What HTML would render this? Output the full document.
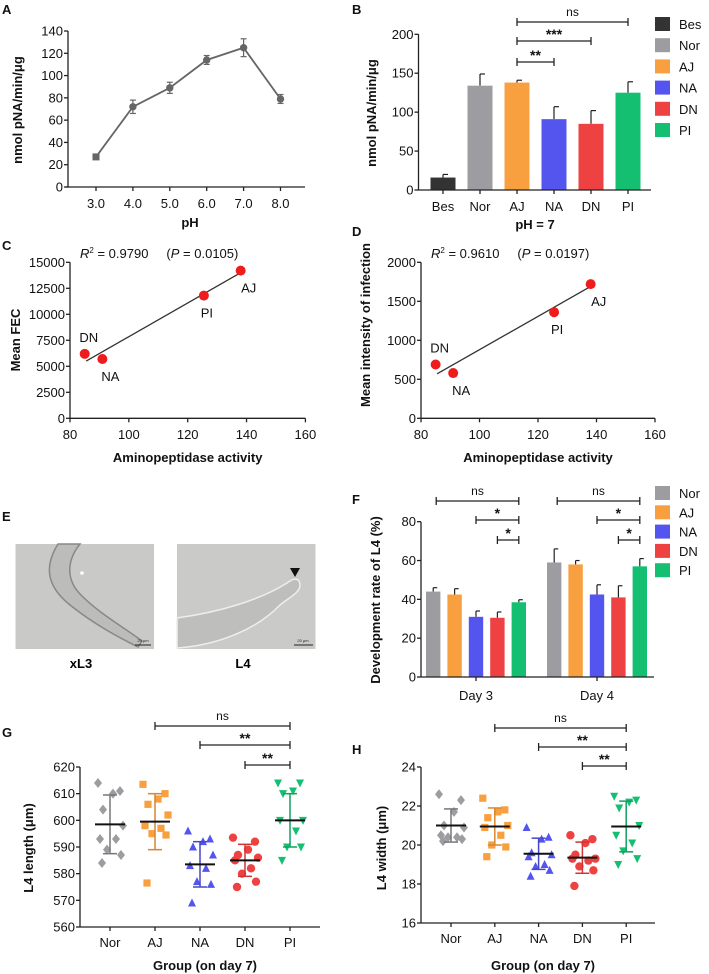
<!DOCTYPE html>
<html><head><meta charset="utf-8"><style>
html,body{margin:0;padding:0;background:#fff;}
svg{display:block;font-family:"Liberation Sans Narrow","Liberation Sans",Arial,sans-serif;}
.b{font-family:"Liberation Sans",Arial,sans-serif;font-weight:bold;}
</style></head><body>
<svg id="fig" width="709" height="974" viewBox="0 0 709 974" xmlns="http://www.w3.org/2000/svg">
<!-- Panel E images -->
<g>
  <rect x="15.5" y="544" width="138.5" height="105" fill="#c9c9c7"/>
  <path d="M58,544 C45,565 45,585 70,605 C95,625 120,638 138,647 L142,641 C125,628 100,614 82,596 C65,580 67,560 80,544 Z" fill="#bcbcba" stroke="#888" stroke-width="1.5"/>
  <circle cx="82" cy="573" r="1.8" fill="#fff"/>
  <line x1="135" y1="645" x2="151" y2="645" stroke="#222" stroke-width="1"/>
  <text x="143" y="642" font-size="4" text-anchor="middle" fill="#222">20 μm</text>
  <rect x="177" y="544" width="138.5" height="105" fill="#cacac8"/>
  <path d="M177,618 C220,612 260,600 287,583 C295,577 300,578 300,586 C299,593 290,597 280,605 C258,628 220,645 177,648 Z" fill="#bebebc" stroke="#eee" stroke-width="1.5"/>
  <polygon points="290,568 300,568 295,577" fill="#111"/>
  <line x1="294" y1="645" x2="313" y2="645" stroke="#222" stroke-width="1"/>
  <text x="303" y="642" font-size="4" text-anchor="middle" fill="#222">20 μm</text>
  <text class="b" x="81" y="668" font-size="13" text-anchor="middle">xL3</text>
  <text class="b" x="243" y="668" font-size="13" text-anchor="middle">L4</text>
</g>
</svg>
<script>
// ---------- DATA ----------
const phLevels = [3, 4, 5, 6, 7, 8];
const phActivity = [27, 72, 89, 114, 125, 79];
const phError = [2, 6, 5, 4, 8, 4];

const groupsB = ["Bes", "Nor", "AJ", "NA", "DN", "PI"];
const activityB = [16, 134, 138, 91, 85, 125];
const errorB = [4, 15, 3, 16, 17, 14];

const corrGroups = ["DN", "NA", "PI", "AJ"];
const corrActivity = [85, 91, 125.5, 138];
const corrFEC = [6200, 5700, 11800, 14200];
const corrIntensity = [690, 580, 1360, 1720];
const fitFEC = [5500, 14000];
const fitIntensity = [570, 1690];
const fitX = [85.5, 138];

const daysF = ["Day 3", "Day 4"];
const groupsF = ["Nor", "AJ", "NA", "DN", "PI"];
const day3Rate = [44, 42.5, 31, 30.5, 38.5];
const day3Err = [2, 3, 3, 3, 1.3];
const day4Rate = [59, 58, 42.5, 41, 57];
const day4Err = [7, 2, 5, 6, 4];

const groupsGH = ["Nor", "AJ", "NA", "DN", "PI"];
const lenNor = [614, 611, 610, 604, 598, 593, 593, 589, 587, 584];
const lenAJ = [613.5, 610, 608, 606, 602, 598, 597, 595, 594.5, 576.5];
const lenNA = [596, 593, 592, 590, 587, 583, 582, 577, 576, 569];
const lenDN = [593.5, 592, 589, 587, 586, 585, 582, 580, 577, 575];
const lenPI = [614, 614, 611, 610, 600, 600, 596, 590, 590, 585];
const lenMean = [598.5, 599.5, 583.5, 585, 600];
const lenSD = [11, 10.5, 8.5, 6, 10];
const widNor = [22.6, 22.3, 21.7, 21.0, 20.9, 20.5, 20.4, 20.4, 20.3, 20.2];
const widAJ = [22.4, 21.8, 21.7, 21.4, 21.0, 20.9, 20.5, 20.0, 19.9, 19.4];
const widNA = [20.9, 20.4, 20.3, 19.6, 19.5, 19.4, 19.0, 18.9, 18.7, 18.4];
const widDN = [20.5, 20.3, 20.1, 19.5, 19.3, 19.3, 19.2, 18.9, 18.7, 17.9];
const widPI = [22.5, 22.3, 22.2, 21.9, 21.0, 20.5, 20.1, 19.7, 19.3, 19.0];
const widMean = [21.0, 20.95, 19.55, 19.35, 20.95];
const widSD = [0.85, 0.95, 0.8, 0.8, 1.3];

const ticksA = [0, 20, 40, 60, 80, 100, 120, 140];
const ticksB = [0, 50, 100, 150, 200];
const ticksC = [0, 2500, 5000, 7500, 10000, 12500, 15000];
const ticksD = [0, 500, 1000, 1500, 2000];
const ticksCorrX = [80, 100, 120, 140, 160];
const ticksF = [0, 20, 40, 60, 80];
const ticksG = [560, 570, 580, 590, 600, 610, 620];
const ticksH = [16, 18, 20, 22, 24];

const colors = {Bes:"#333333", Nor:"#9d9da1", AJ:"#f8a040", NA:"#5454ee", DN:"#ee4242", PI:"#14bf72"};

// ---------- HELPERS ----------
const NS = "http://www.w3.org/2000/svg";
const svg = document.getElementById("fig");
function mk(tag, attrs, parent) {
  const e = document.createElementNS(NS, tag);
  for (const k in attrs) e.setAttribute(k, attrs[k]);
  (parent || svg).appendChild(e);
  return e;
}
function nm(e, name) {
  
  
  return e;
}
function txt(s, x, y, size, anchor, bold, extra) {
  const a = Object.assign({x:x, y:y, "font-size":size, "text-anchor":anchor||"middle", fill:"#111"}, extra||{});
  if (bold) a["class"] = "b";
  const e = mk("text", a);
  e.textContent = s;
  return e;
}
function lin(d0, d1, r0, r1) { return v => r0 + (v - d0) * (r1 - r0) / (d1 - d0); }
function line(x1, y1, x2, y2, c, w) { return mk("line", {x1:x1, y1:y1, x2:x2, y2:y2, stroke:c||"#222", "stroke-width":w||1.3}); }
function yAxis(x, y0, y1, scale, ticks, fmt, prefix) {
  nm(line(x, y0, x, y1), prefix + "-y-axis");
  ticks.forEach(t => {
    nm(line(x - 4, scale(t), x, scale(t)), prefix + "-y-tick");
    nm(txt(fmt ? fmt(t) : String(t), x - 5, scale(t) + 4.5, 13, "end"), prefix + "-y-tick-label");
  });
}
function yTitle(s, x, y, prefix) {
  const e = txt(s, x, y, 13, "middle", true, {transform:"rotate(-90 " + x + " " + y + ")"});
  nm(e, prefix + "-y-axis-title");
}
function bracket(x1, x2, y, label, prefix) {
  nm(line(x1, y, x2, y), prefix + "-sig-bracket");
  nm(line(x1, y - 4, x1, y + 4), prefix + "-sig-bracket-end");
  nm(line(x2, y - 4, x2, y + 4), prefix + "-sig-bracket-end");
  nm(txt(label, (x1 + x2) / 2, label === "ns" ? y - 6 : y - 2, label === "ns" ? 12 : 14, "middle", label !== "ns"), prefix + "-sig-label");
}
function panelLabel(s, x, y) { nm(txt(s, x, y, 13, "start", true), "panel-label-" + s.toLowerCase()); }

// ---------- PANEL A ----------
panelLabel("A", 2, 14);
const xA = lin(3, 8, 96, 280.5), yA = lin(0, 140, 187, 31);
yAxis(68, 187, 31, yA, ticksA, null, "a");
nm(line(66, 187, 305, 187), "a-x-axis");
phLevels.forEach(p => {
  nm(line(xA(p), 187, xA(p), 191), "a-x-tick");
  nm(txt(p.toFixed(1), xA(p), 208, 13), "a-x-tick-label");
});
nm(txt("pH", 190, 227, 13, "middle", true), "a-x-axis-title");
yTitle("nmol pNA/min/μg", 22, 110, "a");
nm(mk("polyline", {points: phLevels.map((p, i) => xA(p) + "," + yA(phActivity[i])).join(" "), fill:"none", stroke:"#666", "stroke-width":1.8}), "a-ph-line");
phLevels.forEach((p, i) => {
  const x = xA(p);
  nm(line(x, yA(phActivity[i] - phError[i]), x, yA(phActivity[i] + phError[i]), "#666", 1.2), "a-error-bar");
  nm(line(x - 3, yA(phActivity[i] + phError[i]), x + 3, yA(phActivity[i] + phError[i]), "#666", 1.2), "a-error-cap");
  nm(line(x - 3, yA(phActivity[i] - phError[i]), x + 3, yA(phActivity[i] - phError[i]), "#666", 1.2), "a-error-cap");
  if (i === 0) nm(mk("rect", {x:x - 3.5, y:yA(phActivity[i]) - 3.5, width:7, height:7, fill:"#666"}), "a-point");
  else nm(mk("circle", {cx:x, cy:yA(phActivity[i]), r:3.7, fill:"#666"}), "a-point");
});

// ---------- PANEL B ----------
panelLabel("B", 352, 14);
const yB = lin(0, 200, 190, 34.3);
const xB = i => 443 + i * 37;
groupsB.forEach((g, i) => {
  const x = xB(i), v = activityB[i], e = errorB[i];
  nm(line(x, yB(v), x, yB(v + e), "#222", 1.2), "b-error-bar");
  nm(line(x, yB(v + e), x + 5, yB(v + e), "#222", 1.2), "b-error-cap");
  nm(mk("rect", {x:x - 12.5, y:yB(v), width:25, height:190 - yB(v), fill:colors[g]}), "b-bar-" + g.toLowerCase());
  nm(line(x, 190, x, 194), "b-x-tick");
  nm(txt(g, x, 211, 13), "b-x-tick-label");
});
yAxis(418.5, 190, 34.3, yB, ticksB, null, "b");
nm(line(418.5, 190, 651, 190), "b-x-axis");
nm(txt("pH = 7", 535, 229, 13, "middle", true), "b-x-axis-title");
yTitle("nmol pNA/min/μg", 376, 113, "b");
bracket(xB(2), xB(5), 22, "ns", "b");
bracket(xB(2), xB(4), 41, "***", "b");
bracket(xB(2), xB(3), 62, "**", "b");
groupsB.forEach((g, i) => {
  const y = 24 + i * 21.2;
  nm(mk("rect", {x:655, y:y - 7, width:15, height:14, fill:colors[g]}), "b-legend-swatch-" + g.toLowerCase());
  nm(txt(g, 679, y + 5, 13, "start"), "b-legend-label-" + g.toLowerCase());
});

// ---------- PANELS C & D ----------
function corrPanel(prefix, ax, axEnd, yVals, fit, ticks, ymax, title, rText, pText) {
  const x = lin(80, 160, ax, axEnd), y = lin(0, ymax, 418.3, 262.3);
  yAxis(ax, 418.3, 262.3, y, ticks, null, prefix);
  nm(line(ax, 418.3, axEnd, 418.3), prefix + "-x-axis");
  ticksCorrX.forEach(t => {
    nm(line(x(t), 418.3, x(t), 422.3), prefix + "-x-tick");
    nm(txt(String(t), x(t), 439, 13), prefix + "-x-tick-label");
  });
  nm(txt("Aminopeptidase activity", (ax + axEnd) / 2, 462, 13, "middle", true), prefix + "-x-axis-title");
  nm(line(x(fitX[0]), y(fit[0]), x(fitX[1]), y(fit[1]), "#333", 1.3), prefix + "-regression-line");
  const offs = {DN:[4, -12], NA:[8, 22], PI:[3, 22], AJ:[8, 22]};
  corrGroups.forEach((g, i) => {
    nm(mk("circle", {cx:x(corrActivity[i]), cy:y(yVals[i]), r:5, fill:"#ee1c1c"}), prefix + "-point-" + g.toLowerCase());
    nm(txt(g, x(corrActivity[i]) + offs[g][0], y(yVals[i]) + offs[g][1], 13), prefix + "-point-label-" + g.toLowerCase());
  });
  const t = mk("text", {x:ax + 10, y:258, "font-size":13, fill:"#111"});
  nm(t, prefix + "-r2-annotation");
  t.innerHTML = '<tspan font-style="italic">R</tspan><tspan dy="-5" font-size="8">2</tspan><tspan dy="5"> = ' + rText + '</tspan><tspan dx="18">(</tspan><tspan font-style="italic">P</tspan><tspan> = ' + pText + ')</tspan>';
  yTitle(title, prefix === "c" ? 20 : 370, prefix === "c" ? 340 : 325, prefix);
}
panelLabel("C", 2, 250);
corrPanel("c", 70, 305.4, corrFEC, fitFEC, ticksC, 15000, "Mean FEC", "0.9790", "0.0105");
panelLabel("D", 352, 236);
corrPanel("d", 421, 655, corrIntensity, fitIntensity, ticksD, 2000, "Mean intensity of infection", "0.9610", "0.0197");

// ---------- PANEL E label ----------
panelLabel("E", 2, 521);

// ---------- PANEL F ----------
panelLabel("F", 352, 504);
const yF = lin(0, 80, 677, 521.7);
const dayCenter = [476, 597];
[day3Rate, day4Rate].forEach((vals, d) => {
  const errs = d === 0 ? day3Err : day4Err;
  groupsF.forEach((g, i) => {
    const x = dayCenter[d] + (i - 2) * 21.4, v = vals[i], e = errs[i];
    nm(line(x, yF(v), x, yF(v + e), "#222", 1.2), "f-error-bar");
    nm(line(x, yF(v + e), x + 4, yF(v + e), "#222", 1.2), "f-error-cap");
    nm(mk("rect", {x:x - 7.2, y:yF(v), width:14.4, height:677 - yF(v), fill:colors[g]}), "f-bar-" + daysF[d].replace(" ", "").toLowerCase() + "-" + g.toLowerCase());
  });
  nm(line(dayCenter[d], 677, dayCenter[d], 681), "f-x-tick");
  nm(txt(daysF[d], dayCenter[d], 700, 13), "f-x-tick-label");
});
yAxis(421, 677, 521.7, yF, ticksF, null, "f");
nm(line(421, 677, 654, 677), "f-x-axis");
yTitle("Development rate of L4 (%)", 380, 600, "f");
dayCenter.forEach((c, d) => {
  const xr = c + 2 * 21.4;
  bracket(c - 2 * 21.4 + 3, xr, 501, "ns", "f");
  bracket(c, xr, 520, "*", "f");
  bracket(c + 21.4, xr, 540, "*", "f");
});
groupsF.forEach((g, i) => {
  const y = 493 + i * 19.3;
  nm(mk("rect", {x:655, y:y - 7, width:15, height:14, fill:colors[g]}), "f-legend-swatch-" + g.toLowerCase());
  nm(txt(g, 679, y + 5, 13, "start"), "f-legend-label-" + g.toLowerCase());
});

// ---------- PANELS G & H ----------
function marker(shape, x, y, c, name) {
  const s = 4;
  let e;
  if (shape === 0) e = mk("polygon", {points:[x, y - s - 1, x + s, y, x, y + s + 1, x - s, y].join(","), fill:c});
  else if (shape === 1) e = mk("rect", {x:x - 3.6, y:y - 3.6, width:7.2, height:7.2, fill:c});
  else if (shape === 2) e = mk("polygon", {points:[x, y - s - 0.5, x + s, y + s - 0.5, x - s, y + s - 0.5].join(","), fill:c});
  else if (shape === 3) e = mk("circle", {cx:x, cy:y, r:4.2, fill:c});
  else e = mk("polygon", {points:[x, y + s + 0.5, x + s, y - s + 0.5, x - s, y - s + 0.5].join(","), fill:c});
  nm(e, name);
}
const jitter = [-12, 10, 3, -7, 13, -10, 6, -3, 11, -8];
function scatterPanel(prefix, ax, axEnd, x0, step, yLo, yHi, tickVals, series, means, sds, title, titleX) {
  const y = lin(tickVals[0], tickVals[tickVals.length - 1], yLo, yHi);
  const x = i => x0 + i * step;
  yAxis(ax, yLo, yHi, y, tickVals, null, prefix);
  nm(line(ax, yLo, axEnd, yLo), prefix + "-x-axis");
  groupsGH.forEach((g, i) => {
    nm(line(x(i), yLo, x(i), yLo + 4), prefix + "-x-tick");
    nm(txt(g, x(i), yLo + 20, 13), prefix + "-x-tick-label");
    series[i].forEach((v, k) => marker(i, x(i) + jitter[k], y(v), colors[g], prefix + "-point-" + g.toLowerCase()));
    const c = i === 0 ? "#777" : i === 1 ? "#d88630" : i === 2 ? "#4646c8" : i === 3 ? "#cc3535" : "#10a060";
    nm(line(x(i), y(means[i] - sds[i]), x(i), y(means[i] + sds[i]), c, 1.5), prefix + "-sd-bar-" + g.toLowerCase());
    nm(line(x(i) - 7, y(means[i] + sds[i]), x(i) + 7, y(means[i] + sds[i]), c, 1.5), prefix + "-sd-cap");
    nm(line(x(i) - 7, y(means[i] - sds[i]), x(i) + 7, y(means[i] - sds[i]), c, 1.5), prefix + "-sd-cap");
    nm(line(x(i) - 15, y(means[i]), x(i) + 15, y(means[i]), "#111", 2), prefix + "-mean-line-" + g.toLowerCase());
  });
  nm(txt("Group (on day 7)", (ax + axEnd) / 2 + 5, 970, 13, "middle", true), prefix + "-x-axis-title");
  yTitle(title, titleX, 848, prefix);
  return x;
}
panelLabel("G", 2, 737);
const xG = scatterPanel("g", 80, 320, 110, 45, 927, 767, ticksG, [lenNor, lenAJ, lenNA, lenDN, lenPI], lenMean, lenSD, "L4 length (μm)", 33);
bracket(xG(1), xG(4), 726, "ns", "g");
bracket(xG(2), xG(4), 745, "**", "g");
bracket(xG(3), xG(4), 765, "**", "g");
panelLabel("H", 352, 754);
const xH = scatterPanel("h", 421, 655, 451, 43.8, 923, 767, ticksH, [widNor, widAJ, widNA, widDN, widPI], widMean, widSD, "L4 width (μm)", 386);
bracket(xH(1), xH(4), 728, "ns", "h");
bracket(xH(2), xH(4), 747, "**", "h");
bracket(xH(3), xH(4), 766, "**", "h");
</script>
</body></html>
